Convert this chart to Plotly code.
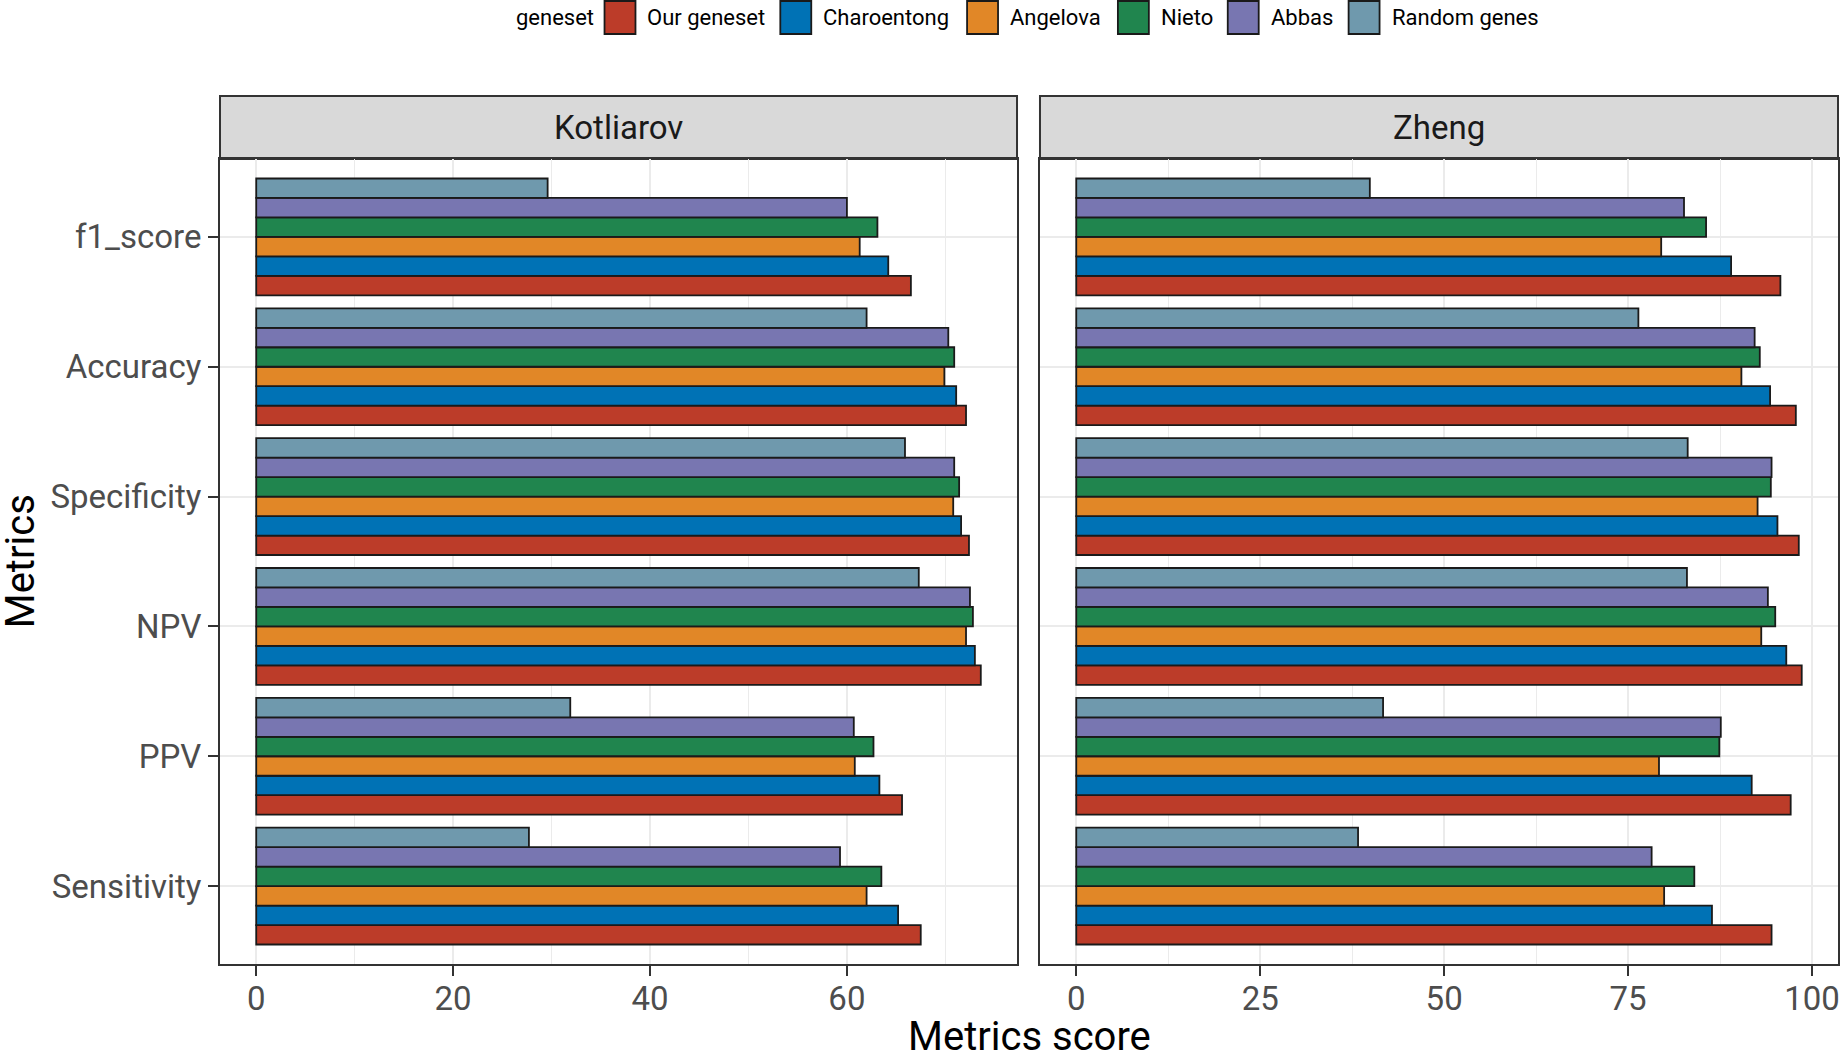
import plotly.graph_objects as go

# metrics, listed top to bottom as in the chart
metrics = ["f1_score", "Accuracy", "Specificity", "NPV", "PPV", "Sensitivity"]
datasets = ["Kotliarov", "Zheng"]
genesets = ["Our geneset", "Charoentong", "Angelova", "Nieto", "Abbas", "Random genes"]
colors = ["#BC3C29", "#0072B5", "#E18727", "#20854E", "#7876B1", "#6F99AD"]

# Kotliarov scores
kot_our = [66.5, 72.1, 72.4, 73.6, 65.6, 67.5]
kot_charoentong = [64.2, 71.1, 71.6, 73.0, 63.3, 65.2]
kot_angelova = [61.3, 69.9, 70.8, 72.1, 60.8, 62.0]
kot_nieto = [63.1, 70.9, 71.4, 72.8, 62.7, 63.5]
kot_abbas = [60.0, 70.3, 70.9, 72.5, 60.7, 59.3]
kot_random = [29.6, 62.0, 65.9, 67.3, 31.9, 27.7]

# Zheng scores
zh_our = [95.7, 97.8, 98.2, 98.6, 97.1, 94.5]
zh_charoentong = [89.0, 94.3, 95.3, 96.5, 91.8, 86.4]
zh_angelova = [79.5, 90.4, 92.6, 93.1, 79.2, 79.9]
zh_nieto = [85.6, 92.9, 94.4, 95.0, 87.4, 84.0]
zh_abbas = [82.6, 92.2, 94.5, 94.0, 87.6, 78.2]
zh_random = [39.9, 76.4, 83.1, 83.0, 41.7, 38.3]

scores = {
    "Kotliarov": [kot_our, kot_charoentong, kot_angelova, kot_nieto, kot_abbas, kot_random],
    "Zheng": [zh_our, zh_charoentong, zh_angelova, zh_nieto, zh_abbas, zh_random],
}

FONT = "Roboto"
GRID = "#EBEBEB"
DARK = "#333333"
TEXT = "#4D4D4D"
OUTLINE = "#1a1a1a"

W, H = 1842, 1055
ML, MR, MT, MB = 220, 2, 159, 91
pw = W - ML - MR
ph = H - MT - MB
left_dom = [0, (1018 - ML) / pw]
right_dom = [(1041 - ML) / pw, 1]
strip_top = 1 + (MT - 96) / ph


def px_x(px):
    # page pixel -> paper x
    return (px - ML) / pw


def px_y(py):
    # page pixel (from top) -> paper y
    return 1 + (MT - py) / ph


fig = go.Figure()

for d, (xa, ya) in zip(datasets, [("x", "y"), ("x2", "y2")]):
    for name, color, vals in zip(genesets, colors, scores[d]):
        fig.add_trace(
            go.Bar(
                x=vals,
                y=metrics,
                orientation="h",
                name=name,
                xaxis=xa,
                yaxis=ya,
                offsetgroup=name,
                marker={"color": color, "line": {"color": OUTLINE, "width": 1.8}},
                showlegend=False,
            )
        )


def x_range(d):
    top = max(max(v) for v in scores[d])
    return [-0.05 * top, 1.05 * top]


axis_common = dict(
    showline=True,
    mirror=True,
    linecolor=DARK,
    linewidth=2,
    showgrid=True,
    gridcolor=GRID,
    gridwidth=2,
    zeroline=False,
    ticks="outside",
    ticklen=10,
    tickwidth=2,
    tickcolor=DARK,
    tickfont={"family": FONT, "size": 33, "color": TEXT},
)

fig.update_layout(
    width=W,
    height=H,
    margin={"l": ML, "r": MR, "t": MT, "b": MB},
    plot_bgcolor="white",
    paper_bgcolor="white",
    barmode="group",
    bargap=0.1,
    bargroupgap=0,
    showlegend=False,
    font={"family": FONT, "color": "black"},
    xaxis=dict(axis_common, domain=left_dom, range=x_range("Kotliarov"), dtick=20, tick0=0,
               ticklabelstandoff=-6,
               minor={"dtick": 10, "showgrid": True, "gridcolor": GRID, "gridwidth": 1.2}),
    xaxis2=dict(axis_common, domain=right_dom, range=x_range("Zheng"), dtick=25, tick0=0,
                ticklabelstandoff=-6,
                minor={"dtick": 12.5, "showgrid": True, "gridcolor": GRID, "gridwidth": 1.2}),
    yaxis=dict(axis_common, categoryorder="array", categoryarray=metrics[::-1], anchor="x",
               range=[-0.6, len(metrics) - 0.4]),
    yaxis2=dict(axis_common, categoryorder="array", categoryarray=metrics[::-1], anchor="x2",
                matches="y", showticklabels=False, ticks=""),
)

# legend drawn ggplot-style: title, then boxed keys with labels
key_left = [605, 781, 968, 1119, 1229, 1350]
KEY_W, KEY_TOP, KEY_BOT = 31, 1, 34
fig.add_annotation(
    x=px_x(514), y=px_y(17), xref="paper", yref="paper", text="geneset",
    showarrow=False, xanchor="left", yanchor="middle",
    font={"family": FONT, "size": 22, "color": "black"},
)
for name, color, kx in zip(genesets, colors, key_left):
    fig.add_shape(
        type="rect", xref="paper", yref="paper",
        x0=px_x(kx), x1=px_x(kx + KEY_W), y0=px_y(KEY_BOT), y1=px_y(KEY_TOP),
        fillcolor=color, line={"color": OUTLINE, "width": 1.8},
    )
    fig.add_annotation(
        x=px_x(kx + KEY_W + 10), y=px_y(17), xref="paper", yref="paper", text=name,
        showarrow=False, xanchor="left", yanchor="middle",
        font={"family": FONT, "size": 22, "color": "black"},
    )

# facet strips
for d, dom in zip(datasets, [left_dom, right_dom]):
    fig.add_shape(
        type="rect", xref="paper", yref="paper",
        x0=dom[0], x1=dom[1], y0=1, y1=strip_top,
        fillcolor="#D9D9D9", line={"color": DARK, "width": 2}, layer="below",
    )
    fig.add_annotation(
        x=(dom[0] + dom[1]) / 2, y=(1 + strip_top) / 2, xref="paper", yref="paper",
        xanchor="center", yanchor="middle",
        text=d, showarrow=False, font={"family": FONT, "size": 33, "color": "#1a1a1a"},
    )

fig.add_annotation(
    x=0.5, y=px_y(1036), xref="paper", yref="paper", text="Metrics score",
    showarrow=False, xanchor="center", yanchor="middle",
    font={"family": FONT, "size": 40, "color": "black"},
)
fig.add_annotation(
    x=px_x(-5), y=0.5, xref="paper", yref="paper", text="Metrics", textangle=-90,
    showarrow=False, xanchor="left", yanchor="middle",
    font={"family": FONT, "size": 40, "color": "black"},
)

fig.write_html(
    "out.html",
    config={"displayModeBar": False},
    post_script="document.body.style.margin='0px';",
)
